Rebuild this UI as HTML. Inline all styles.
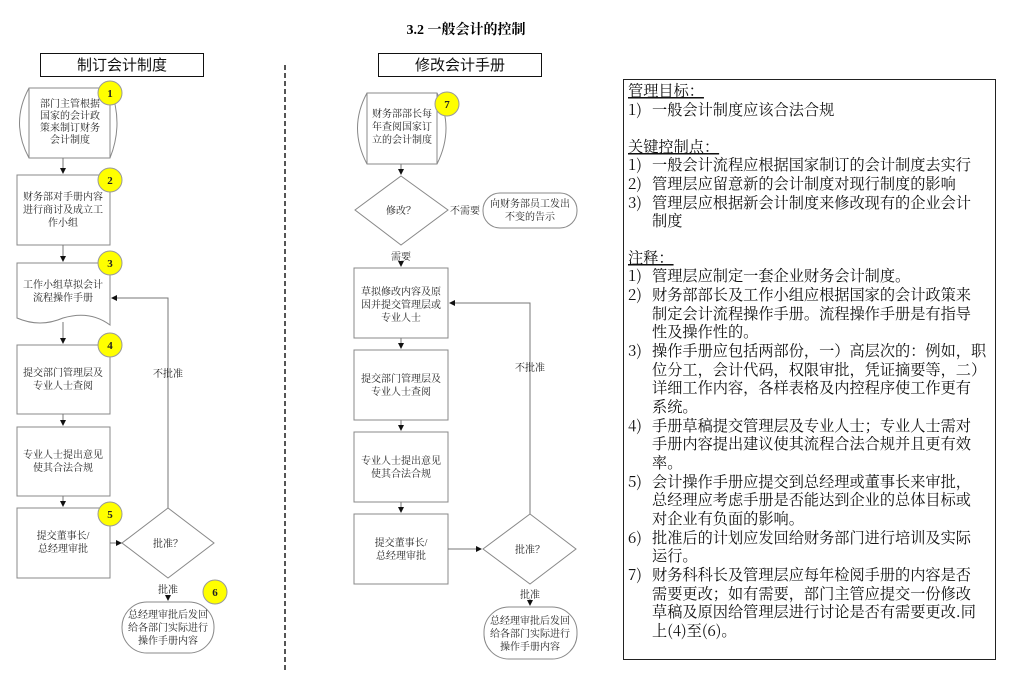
<!DOCTYPE html>
<html><head><meta charset="utf-8"><style>
html,body{margin:0;padding:0;background:#fff;}
svg{display:block;}
.f{font-family:"Liberation Serif","Noto Serif CJK SC",serif;font-size:10px;fill:#222;}
.r{font-family:"Noto Serif CJK SC","Liberation Serif",serif;font-size:15.2px;fill:#111;}
.t{font-family:"Liberation Sans","Noto Sans CJK SC",sans-serif;font-size:15px;fill:#111;}
</style></head><body>
<svg width="1016" height="688" viewBox="0 0 1016 688" xmlns="http://www.w3.org/2000/svg">
<defs><marker id="a" markerWidth="6" markerHeight="6" refX="5" refY="3" orient="auto"><path d="M0,0 L6,3 L0,6 z" fill="#111"/></marker></defs>
<text x="466" y="34" text-anchor="middle" style="font-family:'Liberation Serif','Noto Serif CJK SC',serif;font-size:14px;font-weight:bold">3.2 一般会计的控制</text>

<rect x="40.5" y="53.5" width="163" height="23" fill="#fff" stroke="#111"/>
<text class="t" x="122" y="70" text-anchor="middle">制订会计制度</text>
<line x1="285" y1="65" x2="285" y2="672" stroke="#555" stroke-width="2" stroke-dasharray="5,3"/>

<g fill="#fff" stroke="#888" stroke-width="1">
<path d="M29,88 H110 Q124,123 110,158 H29 Q10,123 29,88 Z"/>
<line x1="29" y1="88" x2="29" y2="158"/><line x1="110" y1="88" x2="110" y2="158"/>
<rect x="17" y="175" width="93" height="70"/>
<path d="M17,263 H110 V325 Q90,310 63,318 Q40,328 17,318 Z"/>
<rect x="17" y="345" width="93" height="69"/>
<rect x="17" y="427" width="93" height="69"/>
<rect x="17" y="508" width="93" height="70"/>
<path d="M168,508 L214,543 L168,578 L122,543 Z"/>
<rect x="122" y="602" width="92" height="51" rx="25"/>
</g>
<g stroke="#777" fill="none">
<line x1="63" y1="158" x2="63" y2="173" marker-end="url(#a)"/>
<line x1="63" y1="245" x2="63" y2="261" marker-end="url(#a)"/>
<line x1="63" y1="322" x2="63" y2="343" marker-end="url(#a)"/>
<line x1="63" y1="414" x2="63" y2="425" marker-end="url(#a)"/>
<line x1="63" y1="496" x2="63" y2="506" marker-end="url(#a)"/>
<line x1="110" y1="543" x2="121" y2="543" marker-end="url(#a)"/>
<polyline points="168,508 168,298 112,298" marker-end="url(#a)"/>
<line x1="168" y1="596" x2="168" y2="600" marker-end="url(#a)"/>
</g>
<g class="f" text-anchor="middle">
<text x="70" y="107">部门主管根据</text><text x="70" y="119">国家的会计政</text><text x="70" y="131">策来制订财务</text><text x="70" y="143">会计制度</text>
<text x="63" y="200">财务部对手册内容</text><text x="63" y="213">进行商讨及成立工</text><text x="63" y="226">作小组</text>
<text x="63" y="288">工作小组草拟会计</text><text x="63" y="301">流程操作手册</text>
<text x="63" y="376">提交部门管理层及</text><text x="63" y="389">专业人士查阅</text>
<text x="63" y="458">专业人士提出意见</text><text x="63" y="471">使其合法合规</text>
<text x="63" y="539">提交董事长/</text><text x="63" y="552">总经理审批</text>
<text x="168" y="547">批准？</text>
<text x="168" y="377">不批准</text>
<text x="168" y="593">批准</text>
<text x="168" y="618">总经理审批后发回</text><text x="168" y="631">给各部门实际进行</text><text x="168" y="644">操作手册内容</text>
</g>

<rect x="378.5" y="53.5" width="163" height="23" fill="#fff" stroke="#111"/>
<text class="t" x="460" y="70" text-anchor="middle">修改会计手册</text>
<g fill="#fff" stroke="#888">
<path d="M367,93 H437 Q455,128 437,164 H367 Q348,128 367,93 Z"/>
<line x1="367" y1="93" x2="367" y2="164"/><line x1="437" y1="93" x2="437" y2="164"/>
<path d="M401,176 L448,210 L401,245 L355,210 Z"/>
<rect x="483" y="193" width="94" height="35" rx="17"/>
<rect x="354" y="268" width="94" height="70"/>
<rect x="354" y="350" width="94" height="70"/>
<rect x="354" y="432" width="94" height="70"/>
<rect x="354" y="514" width="94" height="70"/>
<path d="M530,514 L576,549 L530,584 L483,549 Z"/>
<rect x="484" y="607" width="93" height="52" rx="25"/>
</g>
<g stroke="#777" fill="none">
<line x1="401" y1="164" x2="401" y2="174" marker-end="url(#a)"/>
<line x1="401" y1="261" x2="401" y2="266" marker-end="url(#a)"/>
<line x1="401" y1="338" x2="401" y2="348" marker-end="url(#a)"/>
<line x1="401" y1="420" x2="401" y2="430" marker-end="url(#a)"/>
<line x1="401" y1="502" x2="401" y2="512" marker-end="url(#a)"/>
<line x1="448" y1="549" x2="481" y2="549" marker-end="url(#a)"/>
<polyline points="530,514 530,303 450,303" marker-end="url(#a)"/>
<line x1="530" y1="599" x2="530" y2="605" marker-end="url(#a)"/>
</g>
<g class="f" text-anchor="middle">
<text x="402" y="117">财务部部长每</text><text x="402" y="130">年查阅国家订</text><text x="402" y="143">立的会计制度</text>
<text x="401" y="214">修改？</text>
<text x="465" y="214">不需要</text>
<text x="530" y="207">向财务部员工发出</text><text x="530" y="220">不变的告示</text>
<text x="401" y="260">需要</text>
<text x="401" y="295">草拟修改内容及原</text><text x="401" y="308">因并提交管理层或</text><text x="401" y="321">专业人士</text>
<text x="401" y="382">提交部门管理层及</text><text x="401" y="395">专业人士查阅</text>
<text x="401" y="464">专业人士提出意见</text><text x="401" y="477">使其合法合规</text>
<text x="401" y="546">提交董事长/</text><text x="401" y="559">总经理审批</text>
<text x="530" y="553">批准？</text>
<text x="530" y="371">不批准</text>
<text x="530" y="598">批准</text>
<text x="530" y="624">总经理审批后发回</text><text x="530" y="637">给各部门实际进行</text><text x="530" y="650">操作手册内容</text>
</g>

<g fill="#ffff00" stroke="#999">
<circle cx="110" cy="93" r="12"/><circle cx="110" cy="180" r="12"/><circle cx="110" cy="263" r="12"/>
<circle cx="110" cy="345" r="12"/><circle cx="110" cy="514" r="12"/><circle cx="215" cy="592" r="12"/>
<circle cx="447" cy="104" r="12"/>
</g>
<g class="f" text-anchor="middle" style="font-size:11px;font-weight:bold">
<text x="110" y="97">1</text><text x="110" y="184">2</text><text x="110" y="267">3</text>
<text x="110" y="349">4</text><text x="110" y="518">5</text><text x="215" y="596">6</text><text x="447" y="108">7</text>
</g>

<rect x="623.5" y="79.5" width="372" height="580" fill="#fff" stroke="#222"/>
<g class="r">
<text x="628" y="96" text-decoration="underline">管理目标：</text>
<text x="628" y="115">1)</text><text x="652" y="115">一般会计制度应该合法合规</text>
<text x="628" y="152" text-decoration="underline">关键控制点：</text>
<text x="628" y="170">1)</text><text x="652" y="170">一般会计流程应根据国家制订的会计制度去实行</text>
<text x="628" y="189">2)</text><text x="652" y="189">管理层应留意新的会计制度对现行制度的影响</text>
<text x="628" y="208">3)</text><text x="652" y="208">管理层应根据新会计制度来修改现有的企业会计</text>
<text x="652" y="226">制度</text>
<text x="628" y="263" text-decoration="underline">注释：</text>
<text x="628" y="281">1)</text><text x="652" y="281">管理层应制定一套企业财务会计制度。</text>
<text x="628" y="300">2)</text><text x="652" y="300">财务部部长及工作小组应根据国家的会计政策来</text>
<text x="652" y="319">制定会计流程操作手册。流程操作手册是有指导</text>
<text x="652" y="337">性及操作性的。</text>
<text x="628" y="356">3)</text><text x="652" y="356">操作手册应包括两部份，一）高层次的：例如，职</text>
<text x="652" y="375">位分工，会计代码，权限审批，凭证摘要等，二）</text>
<text x="652" y="393">详细工作内容，各样表格及内控程序使工作更有</text>
<text x="652" y="412">系统。</text>
<text x="628" y="431">4)</text><text x="652" y="431">手册草稿提交管理层及专业人士；专业人士需对</text>
<text x="652" y="449">手册内容提出建议使其流程合法合规并且更有效</text>
<text x="652" y="468">率。</text>
<text x="628" y="487">5)</text><text x="652" y="487">会计操作手册应提交到总经理或董事长来审批，</text>
<text x="652" y="505">总经理应考虑手册是否能达到企业的总体目标或</text>
<text x="652" y="524">对企业有负面的影响。</text>
<text x="628" y="543">6)</text><text x="652" y="543">批准后的计划应发回给财务部门进行培训及实际</text>
<text x="652" y="561">运行。</text>
<text x="628" y="580">7)</text><text x="652" y="580">财务科科长及管理层应每年检阅手册的内容是否</text>
<text x="652" y="599">需要更改；如有需要，部门主管应提交一份修改</text>
<text x="652" y="617">草稿及原因给管理层进行讨论是否有需要更改.同</text>
<text x="652" y="636">上(4)至(6)。</text>
</g>
</svg>
</body></html>
